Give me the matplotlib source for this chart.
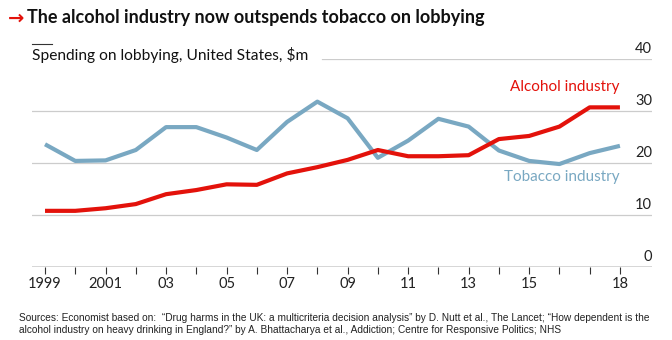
import numpy as np
import matplotlib.pyplot as plt
from matplotlib.lines import Line2D

plt.rcParams['font.family'] = ['Lato', 'DejaVu Sans']

years = np.arange(1999, 2019)
alcohol = [10.8, 10.8, 11.3, 12.1, 14.0, 14.8, 15.9, 15.8, 18.0, 19.2,
           20.6, 22.5, 21.3, 21.3, 21.5, 24.6, 25.2, 27.0, 30.7, 30.7]
tobacco = [23.6, 20.4, 20.5, 22.5, 26.9, 26.9, 24.9, 22.5, 27.9, 31.8,
           28.6, 21.0, 24.3, 28.5, 27.0, 22.4, 20.4, 19.8, 21.9, 23.3]
tick_years = [1999, 2001, 2003, 2005, 2007, 2009, 2011, 2013, 2015, 2018]
tick_labels = ["1999", "2001", "03", "05", "07", "09", "11", "13", "15", "18"]
y_ticks = [0, 10, 20, 30, 40]

red = "#E3120B"
blue = "#79A8C2"

fig = plt.figure(figsize=(6.72, 3.4), dpi=100)
ax = fig.add_axes([32 / 672, 1 - 267 / 340, 620 / 672, 208 / 340])

ax.set_xlim(1998.57, 2019.06)
ax.set_ylim(0, 40)

# gridlines
for v in y_ticks[1:4]:
    ax.axhline(v, color="#cccccc", lw=0.9, zorder=0)
ax.axhline(40, xmin=290 / 620, xmax=1, color="#cccccc", lw=0.9, zorder=0)
ax.axhline(0, color="#333333", lw=1.0, zorder=3)

for v in y_ticks:
    ax.annotate(str(v), xy=(1, v), xycoords=("axes fraction", "data"),
                xytext=(0, 2), textcoords="offset points",
                ha="right", va="bottom", fontsize=10.5, color="#222222")

ax.plot(years, tobacco, color=blue, lw=3, solid_capstyle="butt", zorder=2)
ax.plot(years, alcohol, color=red, lw=3, solid_capstyle="butt", zorder=2)

ax.text(2018, 33.3, "Alcohol industry", color=red, fontsize=11,
        ha="right", va="bottom")
ax.text(2018, 15.9, "Tobacco industry", color=blue, fontsize=11,
        ha="right", va="bottom")

for s in ax.spines.values():
    s.set_visible(False)
ax.set_yticks([])
ax.set_xticks(tick_years)
ax.set_xticklabels(tick_labels, fontsize=10.5, color="#222222")
ax.set_xticks(years, minor=True)
ax.tick_params(axis="x", which="both", length=5, width=0.8, color="#333333", pad=2)

# title and subtitle
fig.text(8 / 672, 1 - 18 / 340, "\u2192", color=red, fontsize=14,
         fontweight="bold", va="center", family=["DejaVu Sans"])
fig.text(27 / 672, 1 - 18 / 340, "The alcohol industry now outspends tobacco on lobbying",
         fontsize=13, fontweight="bold", va="center", color="#111111")
fig.add_artist(Line2D([32 / 672, 52 / 672], [1 - 44 / 340, 1 - 44 / 340],
                      color="#333333", lw=0.8))
fig.text(32 / 672, 1 - 55 / 340, "Spending on lobbying, United States, $m",
         fontsize=11.2, va="center", color="#111111")

fig.text(19 / 672, 1 - 318 / 340,
         "Sources: Economist based on:  \u201cDrug harms in the UK: a multicriteria decision analysis\u201d by D. Nutt et al., The Lancet; \u201cHow dependent is the",
         fontsize=7.25, va="center", color="#222222", family=["Liberation Sans", "DejaVu Sans"])
fig.text(19 / 672, 1 - 330 / 340,
         "alcohol industry on heavy drinking in England?\u201d by A. Bhattacharya et al., Addiction; Centre for Responsive Politics; NHS",
         fontsize=7.25, va="center", color="#222222", family=["Liberation Sans", "DejaVu Sans"])

fig.savefig("out.png", dpi=100)
